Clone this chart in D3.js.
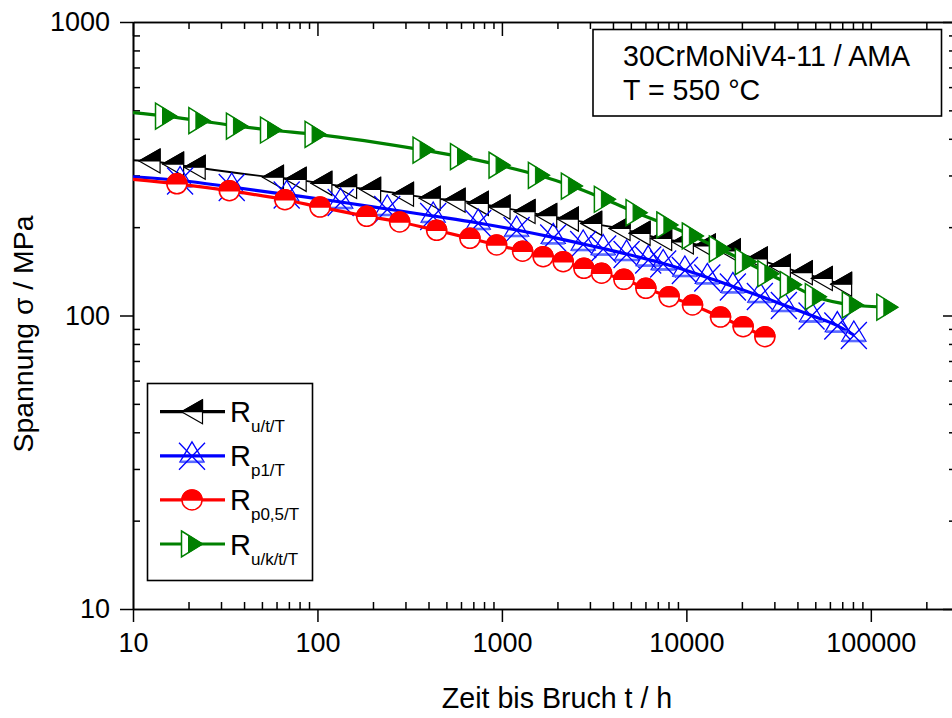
<!DOCTYPE html>
<html><head><meta charset="utf-8">
<script src="https://cdn.jsdelivr.net/npm/d3@7"></script>
<style>
body{margin:0;background:#fff}
svg{display:block}
text{font-family:"Liberation Sans",Arial,sans-serif;fill:#000}
</style>
</head><body>
<svg id="chart" width="952" height="718"></svg>
<script>
// ---------- data ----------
const xTicks = [10, 100, 1000, 10000, 100000];
const yTicks = [10, 100, 1000];
const xDomain = [10, 286000];
const yDomain = [10, 1000];
const xTitle = "Zeit bis Bruch t / h";
const yTitle = "Spannung \u03c3 / MPa";
const infoLines = ["30CrMoNiV4-11 / AMA", "T = 550 \u00b0C"];

// [time h, stress MPa, has marker (1) or line-only anchor (0)]
const ruT = [[10,338,0],[12.3,336,1],[16.5,328,1],[21.6,320,1],[57.4,296,1],[76.2,291,1],[105,282,1],[143,275,1],[193,269,1],[291,259,1],[406,251,1],[554,247,1],[741,241,1],[971,234,1],[1327,226,1],[1739,219,1],[2279,213,1],[3048,206,1],[4344,198,1],[5577,190.5,1],[7301,183,1],[9572,178,1],[12600,172.5,1],[17210,166,1],[24110,155.8,1],[32120,147.1,1],[42270,139.9,1],[54260,133.7,1],[69020,127.8,1],[78600,124.3,0]];
const rp1 = [[10,297,0],[18,288.4,1],[34.3,274,1],[68.1,258.4,1],[133.6,243.6,1],[238.9,230.6,1],[424,218.3,1],[744,206.6,1],[1201,195.6,1],[1897,184.5,1],[2758,175.2,1],[3540,169.1,1],[4742,162,1],[6209,155.1,1],[7487,150.4,1],[9815,142.9,1],[12990,134.8,1],[17870,125.6,1],[25030,116.5,1],[33770,108.6,1],[47710,100,1],[65830,92.4,1],[80900,85.8,1]];
const rp05 = [[10,291,0],[17.3,281,1],[33.3,266.2,1],[66.6,248,1],[103.2,234.2,1],[184.8,217.8,1],[279,208.3,1],[442.7,195.1,1],[670.8,183.2,1],[936,173.9,1],[1295,165.6,1],[1674,158.6,1],[2149,152.5,1],[2783,144.8,1],[3470,139.3,1],[4584,132.8,1],[6032,123.8,1],[8068,115.9,1],[10800,108.6,1],[15320,98.8,1],[20320,91.6,1],[26640,84.7,1]];
const rukT = [[10,491,0],[15.1,478,1],[22.9,461,1],[36.6,442,1],[56,428.5,1],[97.7,414,1],[376,366,1],[600,347.6,1],[971,325,1],[1587,300.4,1],[2395,276,1],[3616,248.9,1],[5370,224,1],[7888,203.4,1],[10840,186.6,1],[15190,168.5,1],[21010,152.5,1],[27830,138.8,1],[36860,127.4,1],[50340,115.9,1],[79880,108.6,1],[122900,106.7,1]];

const seriesNames = ["u/t/T", "p1/T", "p0,5/T", "u/k/t/T"];
const seriesData = [ruT, rp1, rp05, rukT];
const seriesColors = ["#000000", "#0000ff", "#ff0000", "#008000"];
const seriesKinds = ["ltri", "xtri", "circle", "rtri"];
const seriesWidths = [1.8, 3.2, 3.2, 3.2];

// ---------- layout ----------
const M = {left:133, top:22, right:955, bottom:609};
const svg = d3.select("#chart");
const x = d3.scaleLog().domain(xDomain).range([M.left, M.right]);
const y = d3.scaleLog().domain(yDomain).range([M.bottom, M.top]);

function minors(dom){
  const out=[];
  for(let e=Math.floor(Math.log10(dom[0])); e<=Math.ceil(Math.log10(dom[1])); e++){
    for(let k=2;k<=9;k++){const v=k*Math.pow(10,e); if(v>dom[0]&&v<dom[1]) out.push(v);}
  }
  return out;
}
const xMinor = minors(xDomain), yMinor = minors(yDomain);

svg.append("defs").append("clipPath").attr("id","plotclip")
  .append("rect").attr("x",M.left).attr("y",M.top)
  .attr("width",M.right-M.left).attr("height",M.bottom-M.top);

// ---------- axes ----------
function styleAxis(g){
  g.attr("font-family",null).attr("font-size",null);
  g.selectAll("path.domain").attr("stroke","#000").attr("stroke-width",1.6);
  g.selectAll("line").attr("stroke","#000").attr("stroke-width",1.5);
  g.selectAll("text").style("font-size","27px").attr("fill","#000");
}
const fmt = d => String(d);
// bottom
svg.append("g").attr("transform",`translate(0,${M.bottom})`)
  .call(d3.axisBottom(x).tickValues(xMinor).tickSize(-7).tickSizeOuter(0).tickFormat(""))
  .call(styleAxis);
svg.append("g").attr("transform",`translate(0,${M.bottom})`)
  .call(d3.axisBottom(x).tickValues(xTicks).tickSize(13).tickSizeOuter(0).tickPadding(11).tickFormat(fmt))
  .call(styleAxis);
// top
svg.append("g").attr("transform",`translate(0,${M.top})`)
  .call(d3.axisTop(x).tickValues(xMinor).tickSize(-7).tickSizeOuter(0).tickFormat(""))
  .call(styleAxis);
svg.append("g").attr("transform",`translate(0,${M.top})`)
  .call(d3.axisTop(x).tickValues(xTicks).tickSize(-14).tickSizeOuter(0).tickFormat(""))
  .call(styleAxis);
// left
svg.append("g").attr("transform",`translate(${M.left},0)`)
  .call(d3.axisLeft(y).tickValues(yMinor).tickSize(-7).tickSizeOuter(0).tickFormat(""))
  .call(styleAxis);
svg.append("g").attr("transform",`translate(${M.left},0)`)
  .call(d3.axisLeft(y).tickValues(yTicks).tickSize(13).tickSizeOuter(0).tickPadding(10).tickFormat(fmt))
  .call(styleAxis);
// right
svg.append("g").attr("transform",`translate(${M.right},0)`)
  .call(d3.axisRight(y).tickValues(yMinor).tickSize(-6).tickSizeOuter(0).tickFormat(""))
  .call(styleAxis);
svg.append("g").attr("transform",`translate(${M.right},0)`)
  .call(d3.axisRight(y).tickValues(yTicks).tickSize(-12).tickSizeOuter(0).tickFormat(""))
  .call(styleAxis);

// titles
svg.append("text").attr("x",557).attr("y",708).attr("text-anchor","middle")
  .style("font-size","28.6px").text(xTitle);
svg.append("text").attr("transform","translate(33,334) rotate(-90)").attr("text-anchor","middle")
  .style("font-size","28.4px").text(yTitle);

// ---------- markers ----------
function drawMarker(g, kind, color){
  if(kind==="ltri"){
    g.append("path").attr("d","M-10.5,0L10.5,-12L10.5,12Z").attr("fill","#fff").attr("stroke",color).attr("stroke-width",1.2);
    g.append("path").attr("d","M-10.5,0L10.5,-12L10.5,0Z").attr("fill",color).attr("stroke",color).attr("stroke-width",1.2).attr("stroke-linejoin","round");
  } else if(kind==="rtri"){
    g.append("path").attr("d","M-10.5,-13L10.5,0L-10.5,13Z").attr("fill","#fff").attr("stroke",color).attr("stroke-width",1.5);
    g.append("path").attr("d","M-3.5,-8.67L10.5,0L-3.5,8.67Z").attr("fill",color).attr("stroke",color).attr("stroke-width",1);
  } else if(kind==="circle"){
    g.append("circle").attr("r",10).attr("fill","#fff").attr("stroke",color).attr("stroke-width",1.5);
    g.append("path").attr("d","M-10,0A10,10 0 0,1 10,0Z").attr("fill",color).attr("stroke",color).attr("stroke-width",1.5);
  } else if(kind==="xtri"){
    g.append("path").attr("d","M0,-14L12,6L-12,6Z").attr("fill","none").attr("stroke",color).attr("stroke-width",1.3);
    g.append("path").attr("d","M-11.5,6L11.5,6").attr("stroke","#5b6bff").attr("stroke-width",2.6);
    g.append("path").attr("d","M-13,-13L13,14M13,-13L-13,14").attr("fill","none").attr("stroke",color).attr("stroke-width",1.3);
  }
}

// ---------- series ----------
const line = d3.line().x(d=>x(d[0])).y(d=>y(d[1])).curve(d3.curveMonotoneX);
const plot = svg.append("g").attr("clip-path","url(#plotclip)");
seriesData.forEach((data,i)=>{
  const g = plot.append("g");
  g.append("path").datum(data).attr("d",line).attr("fill","none")
    .attr("stroke",seriesColors[i]).attr("stroke-width",seriesWidths[i]).attr("stroke-linejoin","round");
  g.selectAll("g.mk").data(data.filter(d=>d[2]===1)).join("g").attr("class","mk")
    .attr("transform",d=>`translate(${x(d[0])},${y(d[1])})`)
    .each(function(){ drawMarker(d3.select(this), seriesKinds[i], seriesColors[i]); });
});

// ---------- legend ----------
const lg = svg.append("g");
lg.append("rect").attr("x",147.5).attr("y",383.5).attr("width",165).attr("height",197)
  .attr("fill","#fff").attr("stroke","#000").attr("stroke-width",1.6);
seriesNames.forEach((nm,i)=>{
  const cy = 411.7 + i*44.1;
  lg.append("line").attr("x1",160).attr("x2",225).attr("y1",cy).attr("y2",cy)
    .attr("stroke",seriesColors[i]).attr("stroke-width",3.2);
  drawMarker(lg.append("g").attr("transform",`translate(192,${cy})`), seriesKinds[i], seriesColors[i]);
  const t = lg.append("text").attr("x",230).attr("y",cy+10.5).style("font-size","29px");
  t.append("tspan").text("R");
  t.append("tspan").attr("dy",10).style("font-size","17px").text(nm);
});

// ---------- info box ----------
svg.append("rect").attr("x",593).attr("y",29.5).attr("width",348.5).attr("height",86.5)
  .attr("fill","#fff").attr("stroke","#000").attr("stroke-width",1.6);
infoLines.forEach((s,i)=>{
  svg.append("text").attr("x",623).attr("y",65.5+i*34.5).style("font-size","28.6px").text(s);
});
</script>
</body></html>
